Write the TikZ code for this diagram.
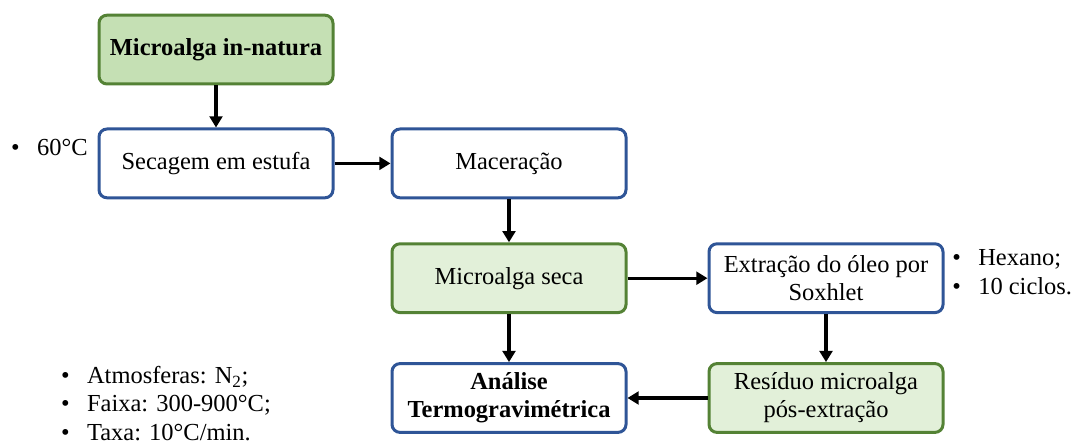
\documentclass[tikz,border=0pt]{standalone}
\usepackage{fontspec}
\setmainfont{Liberation Serif}
\usepackage{tikz}
\usetikzlibrary{
  arrows.meta,
  positioning
}
\definecolor{flowblue}{RGB}{47,85,151}
\definecolor{flowgreen}{RGB}{84,130,53}
\definecolor{flowgreenfill}{RGB}{197,224,180}
\definecolor{flowlightfill}{RGB}{226,240,217}
\tikzset{
  flowBox/.style={
    rectangle,
    rounded corners=0.2cm,
    draw=flowblue,
    fill=white,
    line width=0.075cm,
    minimum width=5.85cm,
    minimum height=1.72cm,
    align=center,
    font=\fontsize{17.4}{20}\selectfont
  },
  flowSample/.style={
    flowBox,
    draw=flowgreen,
    fill=flowlightfill
  },
  flowRaw/.style={
    flowSample,
    fill=flowgreenfill,
    font=\fontsize{17.4}{20}\selectfont\bfseries
  },
  flowArrow/.style={
    -{Triangle[length=2.8mm,width=3.2mm]},
    line width=0.08cm,
    draw=black
  },
  flowNote/.style={
    inner sep=0pt,
    align=left,
    anchor=base west,
    font=\fontsize{17.4}{20}\selectfont
  }
}
\newcommand{\noteItem}[1]{\makebox[0.65cm][l]{\textbullet}#1}

\begin{document}
\begin{tikzpicture}
  \useasboundingbox (0,0) rectangle (26.875,-11.125);

  \node[flowRaw] (innatura) at (5.4,-1.24) {Microalga in-natura};

  \node[flowBox, below=1.05cm of innatura]
    (secagem) {Secagem em estufa};

  \node[flowBox, right=1.4cm of secagem]
    (maceracao) {Maceração};

  \node[flowSample, below=1.075cm of maceracao]
    (seca) {Microalga seca};

  \node[flowBox, right=2.0cm of seca]
    (extracao) {Extração do óleo por\\Soxhlet};

  \node[flowSample, below=1.2cm of extracao]
    (residuo) {Resíduo microalga\\pós-extração};

  \node[flowBox, below=1.2cm of seca, font=\fontsize{17.4}{20}\selectfont\bfseries]
    (analise) {Análise\\Termogravimétrica};

  % notes (anchored at the baseline of the last line)
  \node[flowNote] (dryNote) at (0.27,-3.9) {\noteItem{60°C}};
  \node[flowNote, font=\fontsize{17.4}{21.3}\selectfont] (oilNote) at (23.8,-7.375)
    {\noteItem{Hexano;}\\\noteItem{10 ciclos.}};
  \node[flowNote] (tgaNote) at (1.52,-11.0)
    {\noteItem{Atmosferas: N\textsubscript{2};}\\\noteItem{Faixa: 300-900°C;}\\\noteItem{Taxa: 10°C/min.}};

  \draw[flowArrow] (innatura) -- (secagem);
  \draw[flowArrow] (secagem) -- (maceracao);
  \draw[flowArrow] (maceracao) -- (seca);
  \draw[flowArrow] (seca) -- (extracao);
  \draw[flowArrow] (extracao) -- (residuo);
  \draw[flowArrow] (seca) -- (analise);
  \draw[flowArrow] (residuo) -- (analise);
\end{tikzpicture}
\end{document}
